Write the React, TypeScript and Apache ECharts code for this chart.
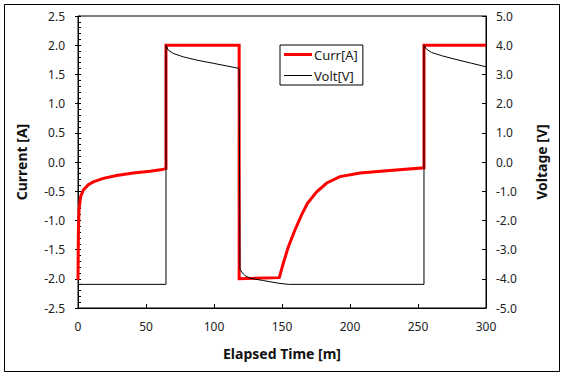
import React, { useEffect, useRef } from "react";
import * as echarts from "echarts";

// Current [A] series: elapsed time (min) and value
const currTime = [0, 0.3, 0.74, 1.96, 3.9, 7.6, 11.3, 18.6, 28.4, 40.7, 52.9, 62, 64.7, 64.7, 118.5, 118.5, 148, 151, 154.7, 159.6, 164.5, 168.6, 175.5, 182.9, 192.6, 207.4, 227, 254.4, 254.4, 300];
const currValue = [-2.02, -1.2, -0.82, -0.59, -0.48, -0.39, -0.34, -0.28, -0.23, -0.19, -0.16, -0.13, -0.11, 2.0, 2.0, -2.0, -1.98, -1.73, -1.45, -1.16, -0.9, -0.71, -0.51, -0.36, -0.25, -0.19, -0.15, -0.1, 2.0, 2.0];

// Voltage [V] series: elapsed time (min) and value
const voltTime = [0, 64.7, 64.7, 66.4, 70, 77.4, 87.3, 99.5, 109.3, 117.9, 118.5, 119.1, 120.4, 122.8, 126.5, 136.3, 147.3, 154.6, 254.4, 254.4, 256.4, 260, 267.4, 277.2, 289.5, 300];
const voltValue = [-4.19, -4.19, 4.0, 3.83, 3.72, 3.6, 3.49, 3.38, 3.29, 3.21, 3.2, -3.66, -3.77, -3.89, -3.98, -4.06, -4.15, -4.19, -4.19, 4.0, 3.86, 3.75, 3.64, 3.52, 3.38, 3.26];

const xTicks = { min: 0, max: 300, interval: 50 };
const currTicks = { min: -2.5, max: 2.5, interval: 0.5 };
const voltTicks = { min: -5, max: 5, interval: 1 };

const FONT = "Noto Sans";
const LABEL = "#222";

export default function App() {
  const ref = useRef<HTMLDivElement>(null);
  useEffect(() => {
    document.body.style.margin = "0";
    const chart = echarts.init(ref.current!, null, { renderer: "svg" });
    const currData = currTime.map((t, i) => [t, currValue[i]]);
    const voltData = voltTime.map((t, i) => [t, voltValue[i]]);
    chart.setOption({
      animation: false,
      backgroundColor: "#fff",
      textStyle: { fontFamily: FONT },
      grid: {
        left: 78,
        right: 81,
        top: 16,
        bottom: 70,
        show: true,
        borderColor: "#000",
        borderWidth: 1,
      },
      legend: {
        orient: "vertical",
        left: 280,
        top: 45,
        padding: [3, 5, 3, 4],
        itemGap: 8,
        itemWidth: 28,
        itemHeight: 14,
        symbolKeepAspect: true,
        borderColor: "#000",
        borderWidth: 1,
        backgroundColor: "#fff",
        textStyle: { fontFamily: FONT, fontSize: 13, color: LABEL, padding: [0, 0, 0, -3] },
        data: [
          { name: "Curr[A]", icon: "path://M0,0H28V3H0Z", itemStyle: { color: "#ff0000" } },
          { name: "Volt[V]", icon: "path://M0,0H28V1H0Z", itemStyle: { color: "#000" } },
        ],
      },
      graphic: [
        {
          type: "rect",
          shape: { x: 4.5, y: 4.5, width: 555, height: 367 },
          style: { fill: "none", stroke: "#000", lineWidth: 1 },
          silent: true,
        },
      ],
      xAxis: {
        type: "value",
        ...xTicks,
        name: "Elapsed Time [m]",
        nameLocation: "middle",
        nameGap: 38,
        nameTextStyle: { fontFamily: FONT, fontSize: 14, fontWeight: "bold", color: "#111" },
        axisLine: { show: true, onZero: false, lineStyle: { color: "#000", width: 1 } },
        axisTick: { show: true, inside: true, length: 4, lineStyle: { color: "#000" } },
        axisLabel: { fontFamily: FONT, fontSize: 12, color: LABEL, margin: 12 },
        splitLine: { show: false },
      },
      yAxis: [
        {
          type: "value",
          position: "left",
          ...currTicks,
          name: "Current [A]",
          nameLocation: "middle",
          nameGap: 50,
          nameTextStyle: { fontFamily: FONT, fontSize: 14, fontWeight: "bold", color: "#111" },
          axisLine: { show: true, onZero: false, lineStyle: { color: "#000", width: 1 } },
          axisTick: { show: true, inside: true, length: 3, lineStyle: { color: "#000" } },
          minorTick: { show: true, splitNumber: 5, length: 3, lineStyle: { color: "#000" } },
          axisLabel: {
            fontFamily: FONT,
            fontSize: 12,
            color: LABEL,
            margin: 13,
            formatter: (v: number) => v.toFixed(1),
          },
          splitLine: { show: false },
        },
        {
          type: "value",
          position: "right",
          ...voltTicks,
          name: "Voltage [V]",
          nameLocation: "middle",
          nameGap: 48,
          nameTextStyle: { fontFamily: FONT, fontSize: 14, fontWeight: "bold", color: "#111" },
          axisLine: { show: true, onZero: false, lineStyle: { color: "#000", width: 1 } },
          axisTick: { show: true, inside: true, length: 4, lineStyle: { color: "#000" } },
          axisLabel: {
            fontFamily: FONT,
            fontSize: 12,
            color: LABEL,
            margin: 10,
            formatter: (v: number) => v.toFixed(1),
          },
          splitLine: { show: false },
        },
        {
          type: "value",
          position: "left",
          ...currTicks,
          axisLine: { show: false, onZero: false },
          axisTick: { show: true, inside: false, length: 3, lineStyle: { color: "#000" } },
          axisLabel: { show: false },
          splitLine: { show: false },
        },
      ],
      series: [
        {
          name: "Curr[A]",
          type: "line",
          yAxisIndex: 0,
          data: currData,
          symbol: "none",
          clip: false,
          lineStyle: { color: "#ff0000", width: 3, cap: "butt", join: "miter" },
          itemStyle: { color: "#ff0000" },
          z: 2,
        },
        {
          name: "Volt[V]",
          type: "line",
          yAxisIndex: 1,
          data: voltData,
          symbol: "none",
          clip: false,
          lineStyle: { color: "#000", width: 1 },
          itemStyle: { color: "#000" },
          z: 3,
        },
      ],
    });
    return () => chart.dispose();
  }, []);
  return <div ref={ref} style={{ width: 567, height: 378 }} />;
}
